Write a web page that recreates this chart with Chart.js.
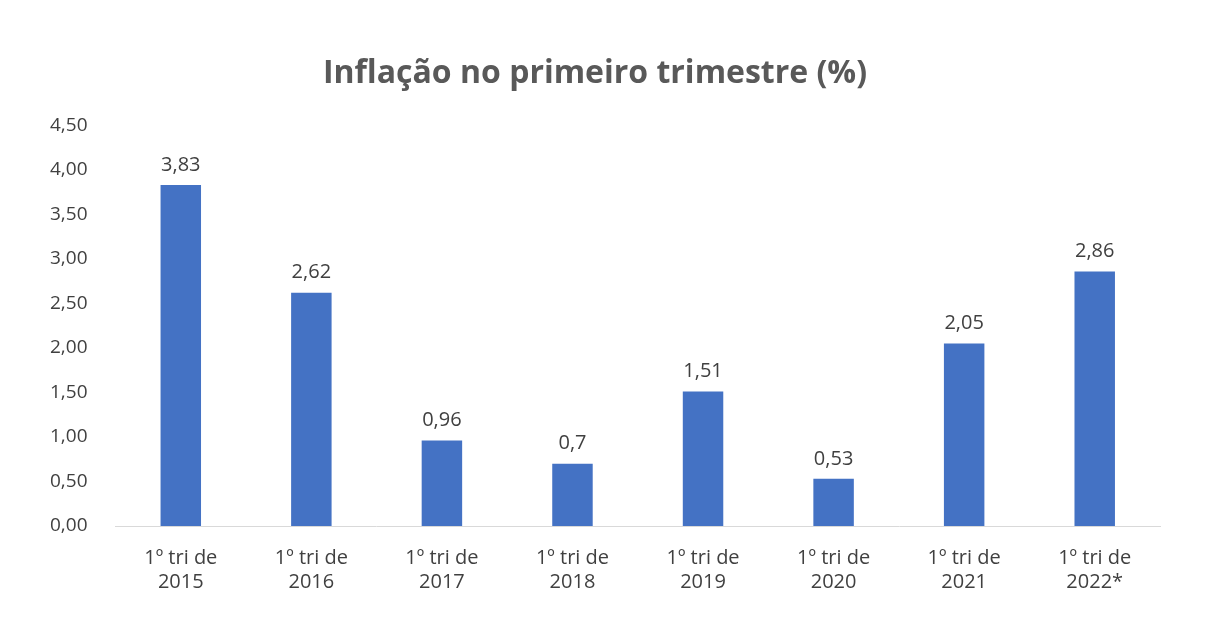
<!DOCTYPE html>
<html><head><meta charset="utf-8">
<script src="https://cdn.jsdelivr.net/npm/chart.js@4"></script>
<style>body{margin:0;background:#fff}</style></head>
<body><canvas id="c" width="1220" height="628"></canvas>
<script>
const categories = [["1º tri de","2015"],["1º tri de","2016"],["1º tri de","2017"],["1º tri de","2018"],["1º tri de","2019"],["1º tri de","2020"],["1º tri de","2021"],["1º tri de","2022*"]];
const values = [3.83, 2.62, 0.96, 0.7, 1.51, 0.53, 2.05, 2.86];
const valueLabels = ["3,83","2,62","0,96","0,7","1,51","0,53","2,05","2,86"];
const FONT = "'Open Sans', sans-serif";
const labelPlugin = {
  id:'vl',
  afterDatasetsDraw(chart){
    const ctx = chart.ctx, meta = chart.getDatasetMeta(0);
    ctx.save();
    ctx.font = "20px " + FONT; ctx.fillStyle = "#404040";
    ctx.textAlign = "center"; ctx.textBaseline = "bottom";
    meta.data.forEach((b,i)=>ctx.fillText(valueLabels[i], b.x, b.y - 10));
    ctx.restore();
  }
};
new Chart(document.getElementById('c'), {
  type:'bar',
  data:{labels:categories, datasets:[{data:values, backgroundColor:'#4472c4', barPercentage:0.31, categoryPercentage:1}]},
  options:{
    responsive:false, animation:false,
    layout:{padding:{left:30,right:60,top:55,bottom:22}},
    plugins:{legend:{display:false}, tooltip:{enabled:false},
      title:{display:true, text:'Inflação no primeiro trimestre (%)', color:'#595959',
        font:{family:FONT, size:32, weight:'bold'}, padding:{top:0,bottom:32}}},
    scales:{
      y:{min:0, max:4.5, ticks:{stepSize:0.5, color:'#404040', font:{family:FONT,size:19}, padding:20,
          callback:v=>v.toFixed(2).replace('.',',')},
        grid:{display:false}, border:{display:false}},
      x:{ticks:{color:'#404040', font:{family:FONT,size:20}, padding:12, maxRotation:0},
        grid:{display:false}, border:{color:'#d9d9d9'}}
    }
  },
  plugins:[labelPlugin]
});
</script></body></html>
